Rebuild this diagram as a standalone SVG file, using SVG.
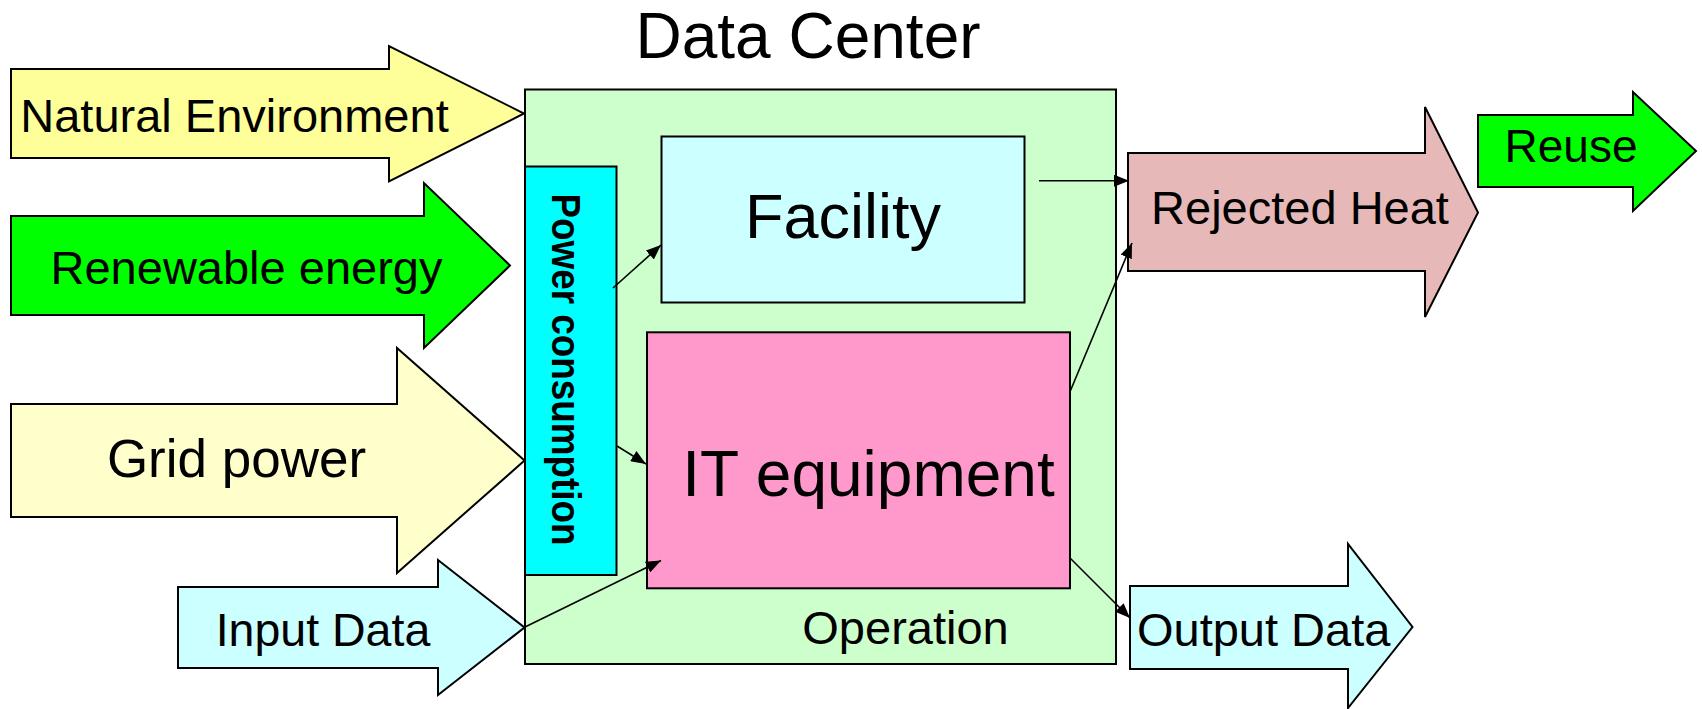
<svg xmlns="http://www.w3.org/2000/svg" width="1702" height="709" viewBox="0 0 1702 709">
<style>
.ol{stroke:#000;stroke-width:2;stroke-linejoin:miter}
.t{font-family:"Liberation Sans",Arial,sans-serif;fill:#000;text-anchor:middle}
.c{stroke:#000;stroke-width:1.6;fill:none}
</style>
<defs>
<marker id="ah" markerUnits="userSpaceOnUse" markerWidth="16" markerHeight="12" viewBox="0 0 16 12" refX="15" refY="6" orient="auto">
<path d="M0,0 L15,6 L0,12 Z" fill="#000"/>
</marker>
</defs>
<rect width="1702" height="709" fill="#fff"/>

<g id="natural-environment">
<polygon class="ol" fill="#ffff99" points="11,69 389,69 389,46 524,113.5 389,181.5 389,158 11,158"/>
<text class="t" x="234.5" y="131.5" font-size="47">Natural Environment</text>
</g>
<g id="renewable-energy">
<polygon class="ol" fill="#00ff00" points="11,216 424,216 424,183 510,265.5 424,348 424,315 11,315"/>
<text class="t" x="246.5" y="284" font-size="47">Renewable energy</text>
</g>
<g id="grid-power">
<polygon class="ol" fill="#ffffcc" points="11,404 397,404 397,348 524.5,460.5 397,573 397,517 11,517"/>
<text class="t" x="236.5" y="477" font-size="53">Grid power</text>
</g>
<g id="input-data">
<polygon class="ol" fill="#ccffff" points="178,587 438,587 438,560 524.5,627.5 438,695 438,668 178,668"/>
<text class="t" x="323" y="646" font-size="46.5">Input Data</text>
</g>

<g id="data-center">
<text class="t" x="808" y="58" font-size="64">Data Center</text>
<rect class="ol" fill="#ccffcc" x="525" y="89.5" width="591" height="574.5"/>
<text class="t" x="905.5" y="644" font-size="47">Operation</text>
</g>
<g id="power-consumption">
<rect class="ol" fill="#00ffff" x="525" y="166.5" width="91.5" height="408.5"/>
<text class="t" transform="translate(552,369.5) rotate(90)" font-size="40" font-weight="bold" textLength="352" lengthAdjust="spacingAndGlyphs">Power consumption</text>
</g>
<g id="facility">
<rect class="ol" fill="#ccffff" x="661.5" y="136.5" width="363" height="166"/>
<text class="t" x="843" y="238.3" font-size="63">Facility</text>
</g>
<g id="it-equipment">
<rect class="ol" fill="#ff99cc" x="647" y="332.3" width="423" height="256"/>
<text class="t" x="868.5" y="496" font-size="64">IT equipment</text>
</g>

<g id="rejected-heat">
<polygon class="ol" fill="#e6b9b8" points="1128,153 1425,153 1425,107 1478,212.5 1425,317 1425,271 1128,271"/>
<text class="t" x="1300" y="224" font-size="47">Rejected Heat</text>
</g>
<g id="reuse">
<polygon class="ol" fill="#00ff00" points="1478,115 1633,115 1633,92 1696,151 1633,211 1633,187 1478,187"/>
<text class="t" x="1571" y="161.7" font-size="46">Reuse</text>
</g>
<g id="output-data">
<polygon class="ol" fill="#ccffff" points="1130,586 1348,586 1348,544 1412.5,627 1348,708 1348,669 1130,669"/>
<text class="t" x="1263.7" y="645.7" font-size="47">Output Data</text>
</g>

<g id="connectors">
<line class="c" x1="613" y1="288" x2="661" y2="245" marker-end="url(#ah)"/>
<line class="c" x1="617" y1="446" x2="646" y2="464" marker-end="url(#ah)"/>
<line class="c" x1="525" y1="627" x2="661" y2="560.5" marker-end="url(#ah)"/>
<line class="c" x1="1039" y1="180.7" x2="1129" y2="180.7" marker-end="url(#ah)"/>
<line class="c" x1="1070" y1="391.7" x2="1132" y2="243" marker-end="url(#ah)"/>
<line class="c" x1="1070" y1="558" x2="1130" y2="618" marker-end="url(#ah)"/>
</g>
</svg>
